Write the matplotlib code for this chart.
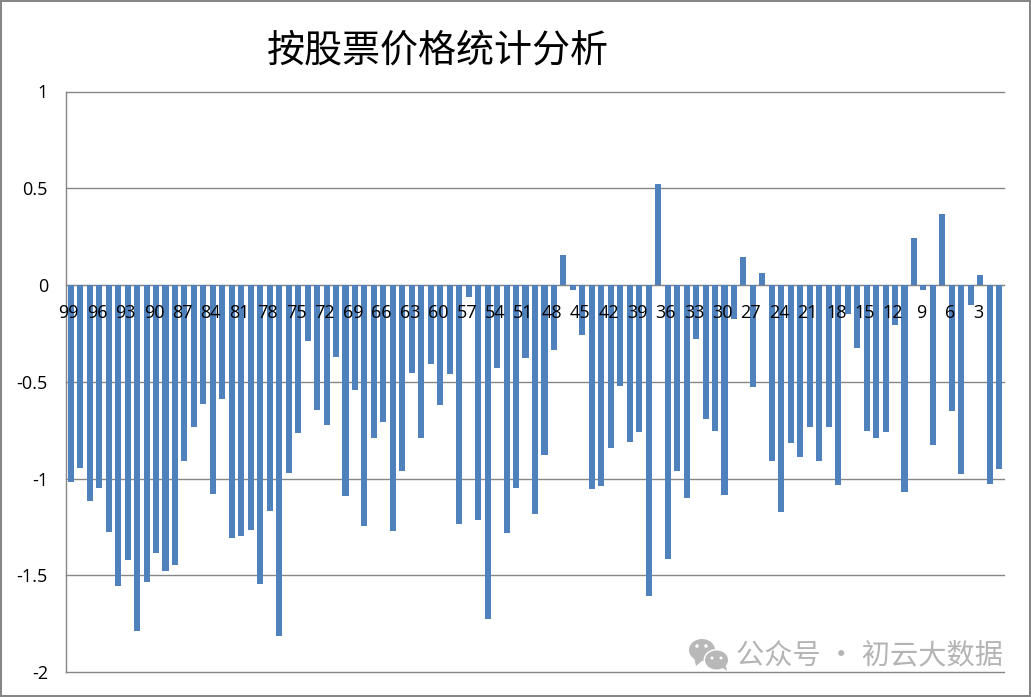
import matplotlib
matplotlib.use('Agg')
import matplotlib.pyplot as plt
from matplotlib.patches import Ellipse, Polygon, Rectangle
from matplotlib.transforms import ScaledTranslation

W, H = 1031, 697

plt.rcParams['font.family'] = ['Noto Sans CJK SC', 'DejaVu Sans']

titulo = '按股票价格统计分析'
marca = '公众号 · 初云大数据'

categorias = list(range(99, 0, -1))
valores = [
    -1.02, -0.948, -1.114, -1.047, -1.279, -1.553, -1.419, -1.786, -1.533, -1.383,
    -1.476, -1.445, -0.907, -0.736, -0.617, -1.078, -0.591, -1.31, -1.295, -1.264,
    -1.543, -1.166, -1.812, -0.974, -0.767, -0.291, -0.648, -0.721, -0.374, -1.093,
    -0.545, -1.243, -0.793, -0.71, -1.269, -0.959, -0.457, -0.793, -0.41, -0.622,
    -0.462, -1.233, -0.064, -1.212, -1.724, -0.431, -1.284, -1.047, -0.379, -1.186,
    -0.881, -0.338, 0.157, -0.028, -0.26, -1.052, -1.041, -0.84, -0.524, -0.809,
    -0.762, -1.605, 0.524, -1.414, -0.959, -1.103, -0.281, -0.695, -0.757, -1.083,
    -0.178, 0.147, -0.529, 0.064, -0.912, -1.171, -0.814, -0.891, -0.736, -0.907,
    -0.736, -1.036, -0.152, -0.328, -0.752, -0.793, -0.762, -0.209, -1.072, 0.245,
    -0.028, -0.829, 0.369, -0.652, -0.979, -0.105, 0.053, -1.026, -0.953,
]
y_ticks = [1, 0.5, 0, -0.5, -1, -1.5, -2]
y_labels = ['1', '0.5', '0', '-0.5', '-1', '-1.5', '-2']

azul = '#4F81BD'
gris = '#868686'

def fx(px):
    return px / W

def fy(py):
    return 1 - py / H

fig = plt.figure(figsize=(W / 100, H / 100), dpi=100)
ax = fig.add_axes([fx(66), fy(672), (1004 - 66) / W, (672 - 91.5) / H])

pos = list(range(1, len(valores) + 1))
ax.bar(pos, valores, width=0.64, color=azul, zorder=1)
ax.set_xlim(0.5, 99.5)
ax.set_ylim(-2, 1)

# moving the spine resets the ticks, so it goes before the tick setup
for s in ['top', 'right']:
    ax.spines[s].set_visible(False)
ax.spines['bottom'].set_position(('data', 0))
ax.spines['bottom'].set_color(gris)
ax.spines['bottom'].set_zorder(0.6)
ax.spines['left'].set_color(gris)
ax.spines['left'].set_linewidth(1.0)
ax.spines['left'].set_zorder(0.6)

# grid under the bars, tick labels stay on top of them
for v in y_ticks:
    ax.axhline(v, color=gris, lw=1.0, zorder=0.5, clip_on=False)

ax.set_yticks(y_ticks)
ax.set_yticklabels(y_labels, fontsize=13, family=['Open Sans'])
ax.tick_params(axis='y', length=0, pad=13)

ax.set_xticks(pos[::3])
ax.set_xticklabels([str(c) for c in categorias[::3]], fontsize=13, family=['Open Sans'])
ax.tick_params(axis='x', length=0, pad=13.5)
# labels sit a little left of their bars
corrimiento = ScaledTranslation(-2 / 100, 0, fig.dpi_scale_trans)
for etiqueta in ax.get_xticklabels():
    etiqueta.set_transform(etiqueta.get_transform() + corrimiento)

fig.text(fx(437.5), fy(51), titulo, fontsize=27.4, ha='center', va='center', color='black')
fig.text(fx(736), fy(655), marca, fontsize=20.3, ha='left', va='center', color='#b4b4b4')

# outer chart frame
fig.add_artist(Rectangle((0, 0), 1, 1, transform=fig.transFigure, fill=False,
                         edgecolor=gris, lw=2.9))

# wechat icon of the watermark
icono = '#b8b8b8'
def burbuja(cx, cy, w, h, cola):
    fig.add_artist(Ellipse((fx(cx), fy(cy)), (w + 3) / W, (h + 3) / H, transform=fig.transFigure,
                           facecolor='white', edgecolor='none'))
    fig.add_artist(Polygon([(fx(a), fy(b)) for a, b in cola], transform=fig.transFigure,
                           facecolor=icono, edgecolor='none'))
    fig.add_artist(Ellipse((fx(cx), fy(cy)), w / W, h / H, transform=fig.transFigure,
                           facecolor=icono, edgecolor='none'))

def ojo(cx, cy, d):
    fig.add_artist(Ellipse((fx(cx), fy(cy)), d / W, d / H, transform=fig.transFigure,
                           facecolor='white', edgecolor='none'))

burbuja(702, 650, 26, 22, [(694, 657), (696, 666), (703, 660)])
ojo(697, 646, 3.5)
ojo(706, 646, 3.5)
burbuja(716.5, 660, 23, 19, [(720, 666), (727, 671), (725, 662)])
ojo(712, 658, 3)
ojo(721, 658, 3)

fig.savefig('out.png', dpi=100)
